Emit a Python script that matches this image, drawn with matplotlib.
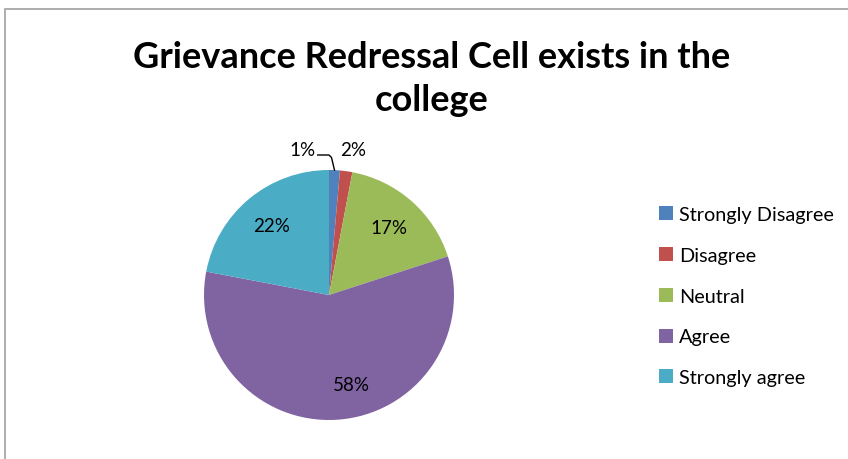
import matplotlib
matplotlib.use("Agg")
import matplotlib.pyplot as plt
import numpy as np
from matplotlib.patches import Patch

categories = ["Strongly Disagree", "Disagree", "Neutral", "Agree", "Strongly agree"]
values = [1.4, 1.6, 17, 58, 22]
colors = ["#4F81BD", "#C0504D", "#9BBB59", "#8064A2", "#4BACC6"]
title_lines = ["Grievance Redressal Cell exists in the", "college"]

plt.rcParams['font.family'] = ['Lato', 'DejaVu Sans']

W, H = 848, 460
fig = plt.figure(figsize=(W / 100, H / 100), dpi=100)

# outer chart frame
frame = plt.Rectangle((5 / W, -0.1), 1.0, (H - 10) / H + 0.1, transform=fig.transFigure,
                      fill=False, edgecolor="#A0A0A0", linewidth=1.2)
fig.add_artist(frame)

cx, cy, r = 329, 296, 125
ax = fig.add_axes([(cx - r) / W, (H - cy - r) / H, 2 * r / W, 2 * r / H])
wedges, _ = ax.pie(values, colors=colors, startangle=90, counterclock=False,
                   radius=1.0, wedgeprops=dict(linewidth=0))
ax.set_xlim(-1, 1)
ax.set_ylim(-1, 1)
ax.set_axis_off()

fs = 13.5
total = sum(values)
for i, (w, v) in enumerate(zip(wedges, values)):
    if v < 5:
        continue
    ang = np.deg2rad((w.theta1 + w.theta2) / 2)
    txt = f"{round(100 * v / total)}%"
    d = 0.72
    x, y = d * np.cos(ang), d * np.sin(ang)
    if categories[i] == "Agree":
        x += 0.13
    ax.text(x, y, txt, ha="center", va="center", fontsize=fs, color="#000000")

# small slices labelled outside
w0 = wedges[0]
ax.text(-0.21, 1.165, f"{round(100 * values[0] / total)}%", ha="center", va="center", fontsize=fs)
ax.text(0.19, 1.165, f"{round(100 * values[1] / total)}%", ha="center", va="center", fontsize=fs)
a0 = np.deg2rad((w0.theta1 + w0.theta2) / 2)
ax.plot([-0.09, 0.0, 0.02, np.cos(a0)], [1.12, 1.12, 1.10, np.sin(a0)],
        color="#000000", linewidth=1, clip_on=False)

fig.text(432 / W, 1 - 57 / H, title_lines[0], ha="center", va="center",
         fontsize=26, fontweight="bold")
fig.text(432 / W, 1 - 101 / H, title_lines[1], ha="center", va="center",
         fontsize=26, fontweight="bold")

handles = [Patch(facecolor=c, edgecolor="none") for c in colors]
fig.legend(handles, categories, loc="upper left", bbox_to_anchor=(659 / W, 1 - 207 / H),
           frameon=False, fontsize=14.3, handlelength=0.7, handleheight=0.7,
           handletextpad=0.3, labelspacing=1.2, borderaxespad=0, borderpad=0)

fig.savefig("out.png", dpi=100)
